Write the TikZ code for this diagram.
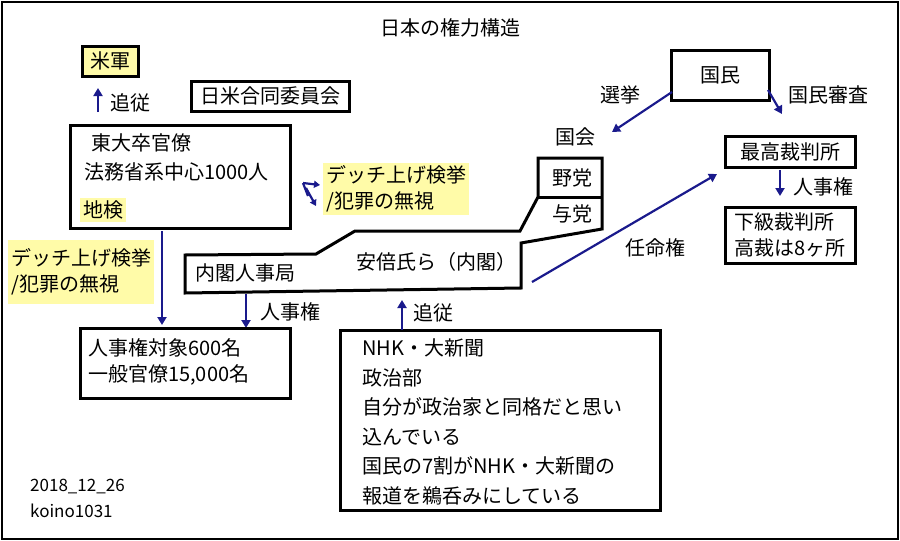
\documentclass[tikz,border=0pt]{standalone}
\usepackage{fontspec}
\setmainfont{Noto Sans CJK JP}
\usetikzlibrary{arrows.meta}
\definecolor{hl}{HTML}{FFFBA8}
\definecolor{ar}{HTML}{1A1A8C}
\begin{document}
\begin{tikzpicture}[x=1pt,y=-1pt,
  bx/.style={draw=black,line width=3pt},
  tx/.style={font=\fontsize{20}{26}\selectfont,inner sep=0pt},
  hlb/.style={fill=hl,draw=none},
  arr/.style={draw=ar,line width=2.2pt,-{Triangle[length=8pt,width=9pt]}}]
\useasboundingbox (0,0) rectangle (900,541);
\draw[line width=2.5pt] (2,2) rectangle (898,539);
\node[tx] (title) at (450,28) {日本の権力構造};
% US
\node[tx,fill=hl,draw,line width=3pt,minimum width=56pt,minimum height=30pt] (us) at (110,61) {米軍};
\coordinate (usb) at (98,112);
\draw[arr] (usb) -- (98,88);
\node[tx,anchor=west] (f1) at (110,103) {追従};
\node[tx,draw,line width=3pt,minimum width=158pt,minimum height=30pt] (jc) at (270,96) {日米合同委員会};
% bureaucrats
\draw[bx] (70,125) rectangle (290,228);
\node[tx,anchor=west] (b1) at (91,143) {東大卒官僚};
\node[tx,anchor=west] (b2) at (84,172) {法務省系中心1000人};
\node[tx,anchor=west,fill=hl,inner sep=3pt] (b3) at (80,210) {地検};
\coordinate (z0) at (303,183);
\draw[arr,-{Triangle[length=6pt,width=7pt]}] (z0) -- (320,185);
\draw[arr,-{Triangle[length=6pt,width=7pt]}] (306,188) -- (316,206);
\draw[draw=ar,line width=2.2pt] (z0) -- (308,196);
\node[tx,hlb,align=left,anchor=west,inner sep=3pt,minimum height=50pt] (lab1) at (323,189) {デッチ上げ検挙\\/犯罪の無視};
\node[tx,hlb,align=left,anchor=west,inner sep=3pt,minimum height=64pt] (lab2) at (8,272) {デッチ上げ検挙\\/犯罪の無視};
\coordinate (bb) at (162,231);
\draw[arr] (bb) -- (162,325);
% cabinet
\draw[bx,line join=miter] (185,255) -- (316,254) -- (355,231) -- (520,231) -- (538,197) -- (538,158) -- (602,158) -- (602,229) -- (521,243) -- (521,288) -- (185,293) -- cycle;
\draw[bx] (538,197) -- (602,197);
\node[tx] (yato) at (572,178) {野党};
\node[tx] (yoto) at (572,214) {与党};
\node[tx] (kokkai) at (575,137) {国会};
\node[tx] (jinji) at (245,273) {内閣人事局};
\node[tx] (abe) at (436,262) {安倍氏ら（内閣）};
\coordinate (cab1) at (246,294);
\draw[arr] (cab1) -- (246,328);
\node[tx,anchor=west] (j1) at (260,312) {人事権};
\draw[bx] (80,328) rectangle (290,398);
\node[tx,align=left,anchor=west] (b4) at (88,362) {人事権対象600名\\一般官僚15,000名};
% media
\draw[bx] (340,330) rectangle (660,510);
\coordinate (mt) at (402,330);
\draw[arr] (mt) -- (402,300);
\node[tx,anchor=west] (f2) at (413,313) {追従};
\node[tx,align=left,anchor=north west,font=\fontsize{20}{29.5}\selectfont] (m) at (362,339) {NHK・大新聞\\政治部\\自分が政治家と同格だと思い\\込んでいる\\国民の7割がNHK・大新聞の\\報道を鵜呑みにしている};
% people
\node[tx,draw,line width=3pt,minimum width=98pt,minimum height=50pt] (pp) at (720,75) {国民};
\draw[arr] (672,92) -- (612,132);
\node[tx] (s1) at (620,95) {選挙};
\draw[arr] (768,90) -- (782,114);
\node[tx] (s2) at (828,95) {国民審査};
\node[tx,draw,line width=3pt,minimum width=130pt,minimum height=31pt] (sc) at (790,152) {最高裁判所};
\draw[arr] (780,170) -- (780,196);
\node[tx,anchor=west] (j2) at (793,187) {人事権};
\node[tx,draw,line width=3pt,minimum width=130pt,minimum height=56pt,align=left] (lc) at (790,235) {下級裁判所\\高裁は8ヶ所};
\coordinate (cr) at (532,282);
\draw[arr] (cr) -- (717,174);
\node[tx] (n1) at (655,248) {任命権};
\node[tx,anchor=west,font=\fontsize{17}{20}\selectfont] (d1) at (30,487) {2018\_12\_26};
\node[tx,anchor=west,font=\fontsize{17}{20}\selectfont] (d2) at (30,511) {koino1031};
\end{tikzpicture}
\end{document}
